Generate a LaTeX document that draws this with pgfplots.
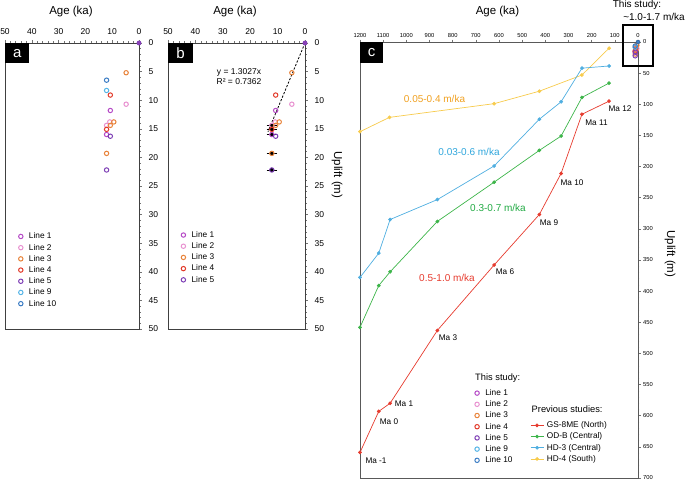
\documentclass[border=0pt]{standalone}
\usepackage{fontspec}
\setmainfont{Liberation Sans}
\usepackage{pgfplots}
\pgfplotsset{compat=1.18}

\definecolor{lone}{HTML}{B54AC6}
\definecolor{ltwo}{HTML}{E891D0}
\definecolor{lthree}{HTML}{E8833A}
\definecolor{lfour}{HTML}{E23A2A}
\definecolor{lfive}{HTML}{7E3FB5}
\definecolor{lnine}{HTML}{55B4E6}
\definecolor{lten}{HTML}{3C7DC4}
\definecolor{cred}{HTML}{E63B2E}
\definecolor{cgreen}{HTML}{3DB54A}
\definecolor{cblue}{HTML}{4FAEE0}
\definecolor{cyellow}{HTML}{F7CB4D}
\definecolor{torange}{HTML}{F0A020}
\definecolor{tblue}{HTML}{2FA6DC}
\definecolor{tgreen}{HTML}{22AA44}

\pgfplotsset{
  frame/.style={scale only axis, clip=false, x dir=reverse, y dir=reverse,
    xticklabel pos=right, yticklabel pos=right, xtick pos=right, ytick pos=right,
    tick align=outside, axis line style={black!75, line width=0.8pt},
    tick style={black!55, line width=0.5pt},
    /pgf/number format/assume math mode=true,
    /pgf/number format/1000 sep={},
    legend cell align=left,
    legend style={draw=none, fill=none, anchor=north west, inner sep=0pt,
      font=\fontsize{8.3}{9}\selectfont, row sep=3.9pt, column sep=6pt,
      nodes={inner sep=0pt, text height=6pt, text depth=1.3pt}},
    legend image code/.code={\draw[#1] plot coordinates {(0pt,0pt)};}},
  small/.style={major tick length=3pt, minor tick length=1.6pt,
    ticklabel style={font=\fontsize{8.5}{9}\selectfont},
    xticklabel shift=2pt, yticklabel shift=3pt,
    xmin=0, xmax=50, ymin=0, ymax=50, xtick={0,10,...,50}, ytick={0,5,...,50},
    minor x tick num=4, minor y tick num=4},
  ring/.style={only marks, mark=o, mark size=2.2pt, line width=1pt, color=#1},
  prev/.style={color=#1, mark=*, mark size=1.5pt, line width=0.7pt},
}

\begin{document}
\begin{tikzpicture}[x=1pt,y=1pt]
\path[use as bounding box] (0,0) rectangle (685,481);

% ---------- panel a ----------
\begin{axis}[frame, small, at={(5pt,152pt)}, anchor=south west,
  width=134pt, height=286pt, legend style={at={(0.10,0.337)}}]
\addplot[ring=lone] coordinates {(10.7,11.8) (12.1,16.0)};
\addlegendentry{Line 1}
\addplot[ring=ltwo] coordinates {(4.8,10.7) (10.9,13.8) (12.1,14.4)};
\addlegendentry{Line 2}
\addplot[ring=lthree] coordinates {(4.8,5.2) (9.4,13.8) (10.7,14.4) (12.1,19.3)};
\addlegendentry{Line 3}
\addplot[ring=lfour] coordinates {(10.7,9.1) (12.1,15.1)};
\addlegendentry{Line 4}
\addplot[ring=lfive] coordinates {(10.7,16.3) (12.1,22.2)};
\addlegendentry{Line 5}
\addplot[ring=lnine] coordinates {(12.1,8.3)};
\addlegendentry{Line 9}
\addplot[ring=lten] coordinates {(12.1,6.5)};
\addlegendentry{Line 10}
\addplot[forget plot, only marks, mark=*, mark size=2.2pt, fill=lfive!80!lone, draw=lfive] coordinates {(0,0)};
\end{axis}

% ---------- panel b ----------
\begin{axis}[frame, small, at={(168pt,152pt)}, anchor=south west,
  width=137pt, height=286pt, legend style={at={(0.095,0.342)}}]
\addplot[forget plot, only marks, mark=none, black,
  error bars/.cd, x dir=both, x explicit,
  error bar style={black, line width=0.6pt},
  error mark options={black, mark size=1.2pt, line width=0.6pt}]
  coordinates {(12.1,14.4) +- (1.5,0) (12.1,15.1) +- (1.5,0) (12.1,16.0) +- (1.5,0)
               (12.1,19.3) +- (1.5,0) (12.1,22.2) +- (1.5,0)};
\addplot[ring=lone] coordinates {(10.7,11.8) (12.1,16.0)};
\addlegendentry{Line 1}
\addplot[ring=ltwo] coordinates {(4.8,10.7) (10.9,13.8) (12.1,14.4)};
\addlegendentry{Line 2}
\addplot[ring=lthree] coordinates {(4.8,5.2) (9.4,13.8) (10.7,14.4) (12.1,19.3)};
\addlegendentry{Line 3}
\addplot[ring=lfour] coordinates {(10.7,9.1) (12.1,15.1)};
\addlegendentry{Line 4}
\addplot[ring=lfive] coordinates {(10.7,16.3) (12.1,22.2)};
\addlegendentry{Line 5}
\addplot[forget plot, only marks, mark=*, mark size=2.2pt, fill=lfive!80!lone, draw=lfive] coordinates {(0,0)};
\addplot[forget plot, black, line width=0.8pt, dash pattern=on 2.2pt off 1.6pt] coordinates {(0,0) (13.5,15.5)};
\end{axis}

% ---------- panel c ----------
\begin{axis}[frame, at={(360pt,3pt)}, anchor=south west, width=278pt, height=436pt,
  xmin=0, xmax=1200, ymin=0, ymax=700, xtick={0,100,...,1200}, ytick={0,50,...,700},
  minor y tick num=4, major tick length=2.5pt, minor tick length=1.3pt,
  axis line style={black!65, line width=1pt},
  ticklabel style={font=\fontsize{5.8}{6}\selectfont, inner sep=1.5pt},
  xticklabel shift=0.5pt, yticklabel shift=1pt,
  legend style={at={(0.4125,0.2035)}}]
\addplot[prev=cyellow, forget plot] coordinates {(1200,144) (1073,121) (621,99) (426,79) (242,53) (125,10)};
\addplot[prev=cblue, forget plot] coordinates {(1200,378) (1119,339) (1070,285) (866,253) (621,199) (426,124) (332,96) (242,42) (125,38.5)};
\addplot[prev=cgreen, forget plot] coordinates {(1200,458) (1119,391) (1070,369) (866,288) (621,225) (426,174) (332,151) (242,89) (125,66)};
\addplot[prev=cred, forget plot] coordinates {(1200,659) (1119,593) (1070,580) (866,463) (621,358) (426,277) (332,211) (242,116) (125,95)};
\addplot[ring=lone] coordinates {(10.7,11.8) (12.1,16.0)};
\addlegendentry{Line 1}
\addplot[ring=ltwo] coordinates {(4.8,10.7) (10.9,13.8) (12.1,14.4)};
\addlegendentry{Line 2}
\addplot[ring=lthree] coordinates {(4.8,5.2) (9.4,13.8) (10.7,14.4) (12.1,19.3)};
\addlegendentry{Line 3}
\addplot[ring=lfour] coordinates {(10.7,9.1) (12.1,15.1)};
\addlegendentry{Line 4}
\addplot[ring=lfive] coordinates {(10.7,16.3) (12.1,22.2)};
\addlegendentry{Line 5}
\addplot[ring=lnine] coordinates {(12.1,8.3)};
\addlegendentry{Line 9}
\addplot[ring=lten] coordinates {(12.1,6.5)};
\addlegendentry{Line 10}
\addplot[forget plot, only marks, mark=*, mark size=2pt, fill=lten, draw=lten!70!black] coordinates {(0,0)};
\end{axis}

% legend of the previous studies, on a hidden axis over panel c
\begin{axis}[frame, hide axis, at={(360pt,3pt)}, anchor=south west, width=278pt, height=436pt,
  xmin=0, xmax=1, ymin=0, ymax=1,
  legend style={at={(0.6115,0.1296)}, column sep=3pt},
  legend image code/.code={\draw[#1, mark repeat=2, mark phase=2] plot coordinates {(0pt,0pt) (6.5pt,0pt) (13pt,0pt)};}]
\addlegendimage{prev=cred}
\addlegendentry{GS-8ME (North)}
\addlegendimage{prev=cgreen}
\addlegendentry{OD-B (Central)}
\addlegendimage{prev=cblue}
\addlegendentry{HD-3 (Central)}
\addlegendimage{prev=cyellow}
\addlegendentry{HD-4 (South)}
\end{axis}

% ---------- titles and labels ----------
\begin{scope}[every node/.style={inner sep=0pt}]
\node[font=\fontsize{11.5}{12}\selectfont] at (71,469) {Age (ka)};
\node[font=\fontsize{11.5}{12}\selectfont] at (235,469) {Age (ka)};
\node[font=\fontsize{11.5}{12}\selectfont] at (497.5,469) {Age (ka)};
\node[font=\fontsize{11.5}{12}\selectfont, rotate=-90] at (337,306) {Uplift (m)};
\node[font=\fontsize{11.5}{12}\selectfont, rotate=-90] at (670,227) {Uplift (m)};
\node[fill=black, text=white, anchor=north west, minimum width=24pt, minimum height=20pt,
  font=\fontsize{15}{15}\selectfont] at (5,438) {a};
\node[fill=black, text=white, anchor=north west, minimum width=24.5pt, minimum height=20pt,
  font=\fontsize{15}{15}\selectfont] at (168,438) {b};
\node[fill=black, text=white, anchor=north west, minimum width=23pt, minimum height=21pt,
  font=\fontsize{15}{15}\selectfont] at (360,439) {c};
\node[font=\fontsize{8.5}{9}\selectfont] at (239,409) {y = 1.3027x};
\node[font=\fontsize{8.5}{9}\selectfont] at (239,399) {R² = 0.7362};
\node[font=\fontsize{10}{11}\selectfont] at (637,476) {This study:};
\node[font=\fontsize{10}{11}\selectfont] at (654,464) {\textasciitilde1.0-1.7 m/ka};
\node[font=\fontsize{9.3}{10}\selectfont, anchor=west] at (475,103) {This study:};
\node[font=\fontsize{9.3}{10}\selectfont, anchor=west] at (531.5,72) {Previous studies:};
\node[font=\fontsize{10}{11}\selectfont, text=torange] at (434.5,382) {0.05-0.4 m/ka};
\node[font=\fontsize{10}{11}\selectfont, text=tblue] at (469,329) {0.03-0.6 m/ka};
\node[font=\fontsize{10}{11}\selectfont, text=tgreen] at (498,273) {0.3-0.7 m/ka};
\node[font=\fontsize{10}{11}\selectfont, text=cred] at (447,203) {0.5-1.0 m/ka};
\begin{scope}[every node/.append style={font=\fontsize{8.2}{9}\selectfont}]
\node at (620,372) {Ma 12};
\node at (596.5,358) {Ma 11};
\node at (572,298) {Ma 10};
\node at (549,258) {Ma 9};
\node at (505,209) {Ma 6};
\node at (448,143) {Ma 3};
\node at (404,77) {Ma 1};
\node at (389,59) {Ma 0};
\node at (376,20) {Ma -1};
\end{scope}
\end{scope}
\draw[line width=1.4pt] (623,415) rectangle (653,456);
\end{tikzpicture}
\end{document}
